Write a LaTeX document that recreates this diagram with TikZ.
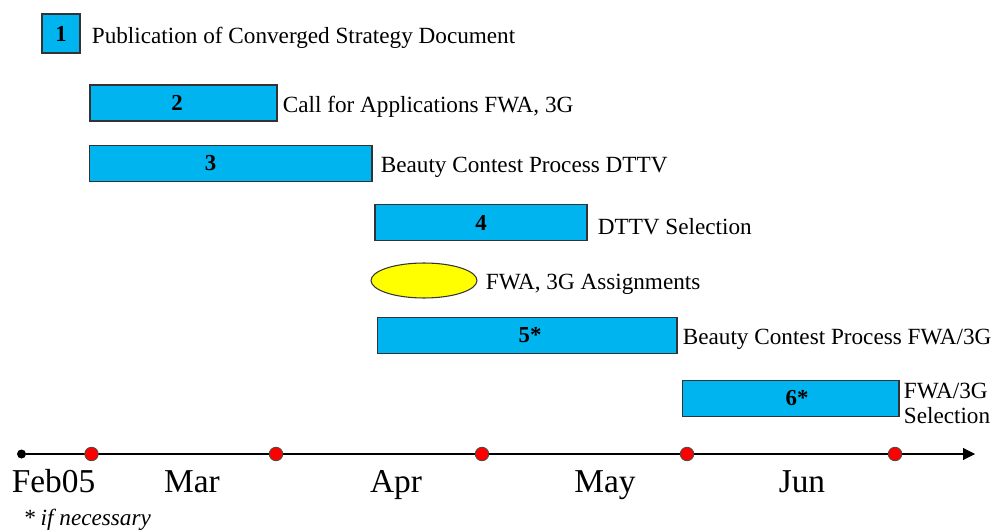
\documentclass[tikz,border=0pt]{standalone}
\usepackage{fontspec}
\setmainfont{Liberation Serif}
\usetikzlibrary{arrows.meta,positioning,shapes.geometric}
\definecolor{barfill}{RGB}{0,180,240}
\definecolor{ovalfill}{RGB}{255,255,0}
\definecolor{dotred}{RGB}{255,0,0}

\tikzset{
  bar/.style={draw=black!80, fill=barfill, line width=0.6pt, inner sep=0pt, minimum height=0.72cm},
  num/.style={inner sep=0pt, font=\fontsize{13}{15}\selectfont\bfseries},
  lbl/.style={inner sep=0pt, anchor=west, yshift=-0.08cm, font=\fontsize{13.2}{15}\selectfont},
  month/.style={inner sep=0pt, anchor=base, font=\fontsize{19}{22}\selectfont},
  reddot/.style={circle, draw=black!70, fill=dotred, minimum size=0.27cm, inner sep=0pt, line width=0.5pt},
}

\begin{document}
\begin{tikzpicture}[x=0.02cm, y=-0.02cm]
	\useasboundingbox (0,0) rectangle (994,530);

	% Paso 1
	\node[bar, minimum width=0.76cm, minimum height=0.78cm, label={[num]center:1}] (b1) at (61,33.5) {};
	\node[lbl, right=0.22cm of b1] (t1) {Publication of Converged Strategy Document};

	% Pasos 2 y 3
	\node[bar, minimum width=3.74cm, label={[num, xshift=-0.13cm]center:2}] (b2) at (183.5,103) {};
	\node[lbl, right=0.1cm of b2] (t2) {Call for Applications FWA, 3G};
	\node[bar, minimum width=5.66cm, label={[num, xshift=-0.4cm]center:3}] (b3) at (230.5,163.5) {};
	\node[lbl, right=0.16cm of b3] (t3) {Beauty Contest Process DTTV};

	% Paso 4 y asignaciones
	\node[bar, minimum width=4.24cm, label={[num]center:4}] (b4) at (481,222.5) {};
	\node[lbl, right=0.2cm of b4] (t4) {DTTV Selection};
	\node[ellipse, draw=black!80, fill=ovalfill, line width=0.6pt, inner sep=0pt,
	      minimum width=2.12cm, minimum height=0.7cm] (ov) at (424,280.5) {};
	\node[lbl, right=0.16cm of ov] (tov) {FWA, 3G Assignments};

	% Pasos 5* y 6*
	\node[bar, minimum width=6cm, label={[num, xshift=0.06cm]center:5*}] (b5) at (527,335.5) {};
	\node[lbl, right=0.1cm of b5] (t5) {Beauty Contest Process FWA/3G};
	\node[bar, minimum width=4.34cm, label={[num, xshift=0.13cm]center:6*}] (b6) at (790.5,398.5) {};
	\node[lbl, right=0.08cm of b6, yshift=-0.02cm, align=left, font=\fontsize{13.2}{14.7}\selectfont] (t6) {FWA/3G\\Selection};

	% Linea de tiempo
	\node[circle, fill=black, inner sep=0pt, minimum size=0.18cm] (t0) at (21.5,454) {};
	\coordinate (tend) at (975,454);
	\draw[line width=0.6pt, -{Triangle[length=0.24cm, width=0.24cm]}] (t0) -- (tend);
	\foreach \x [count=\i] in {91.5,276,482,687,895}
		\node[reddot] (m\i) at (\x,454) {};

	% Meses
	\foreach \x/\m in {53.5/Feb05, 192/Mar, 396/Apr, 605/May, 802/Jun}
		\node[month] (\m) at (\x,492) {\m};

	\node[lbl, anchor=base west, yshift=0cm, font=\fontsize{13.2}{15}\selectfont\itshape] (note) at (23,521) {* if necessary};
\end{tikzpicture}
\end{document}
